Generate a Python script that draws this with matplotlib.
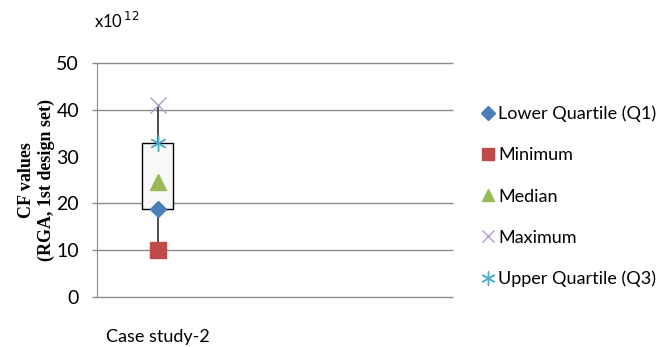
import matplotlib
matplotlib.use("Agg")
import matplotlib.pyplot as plt
from matplotlib.transforms import blended_transform_factory

# Five-number summary of the CF values (units of 1e12)
categories = ["Case study-2"]
q1_vals = [18.8]
min_vals = [10.0]
median_vals = [24.5]
max_vals = [41.0]
q3_vals = [33.0]
y_ticks = [0, 10, 20, 30, 40, 50]
grid_levels = [0, 10, 20, 40, 50]

tick_font = "Lato"
fig = plt.figure(figsize=(6.58, 3.47), dpi=100)
ax = fig.add_axes([0.1474, 0.144, 0.541, 0.674])

x = list(range(len(categories)))

# Horizontal rules, each starting with a short outward tick
trans = blended_transform_factory(ax.transAxes, ax.transData)
ax.hlines(grid_levels, -5 / 356, 1.0, transform=trans, color="#8c8c8c",
          lw=1.0, zorder=0, clip_on=False)

# Box from Q1 to Q3 plus whisker from min to max
ax.vlines(x, min_vals, max_vals, color="#404040", lw=1.3, zorder=2)
ax.bar(x, [b - a for a, b in zip(q1_vals, q3_vals)], bottom=q1_vals, width=0.254,
       color="#f8f8f8", edgecolor="black", lw=1.0, zorder=3)

ax.plot(x, q1_vals, ls="none", marker="D", ms=8, color="#4a7ebb", label="Lower Quartile (Q1)", zorder=5)
ax.plot(x, min_vals, ls="none", marker="s", ms=11, color="#be4b48", label="Minimum", zorder=5)
ax.plot(x, median_vals, ls="none", marker="^", ms=11, color="#98b954", label="Median", zorder=5)
ax.plot(x, max_vals, ls="none", marker="x", ms=11, mew=1.0, color="#b09cd0", label="Maximum", zorder=5)
ax.plot(x, q3_vals, ls="none", marker=(6, 2, 0), ms=12, mew=1.0, color="#4bacc6", label="Upper Quartile (Q3)", zorder=5)

ax.set_xlim(-0.5, 2.418)
ax.set_ylim(0, 50)
ax.set_yticks(y_ticks)
ax.set_xticks(x)
ax.set_xticklabels(categories, fontsize=13, family=tick_font)
ax.tick_params(axis="x", length=0, pad=23)
ax.tick_params(axis="y", length=0, labelsize=14, pad=13)
for lab in ax.get_yticklabels():
    lab.set_family(tick_font)
for s in ["top", "right", "bottom"]:
    ax.spines[s].set_visible(False)
ax.spines["left"].set_color("#8c8c8c")

ax.set_ylabel("CF values\n(RGA, 1st design set)", family="Liberation Serif",
              fontweight="bold", fontsize=13, labelpad=1, linespacing=1.15)

fig.text(0.143, 0.94, r"x10$^{\,12}$", fontsize=12, family=tick_font, ha="left", va="center")

fig.legend(loc="upper left", bbox_to_anchor=(0.721, 0.716), frameon=False,
           prop={"family": tick_font, "size": 13}, labelspacing=1.39,
           handlelength=0.7, handletextpad=0.2, borderaxespad=0, markerscale=0.85)

fig.savefig("out.png", dpi=100)
